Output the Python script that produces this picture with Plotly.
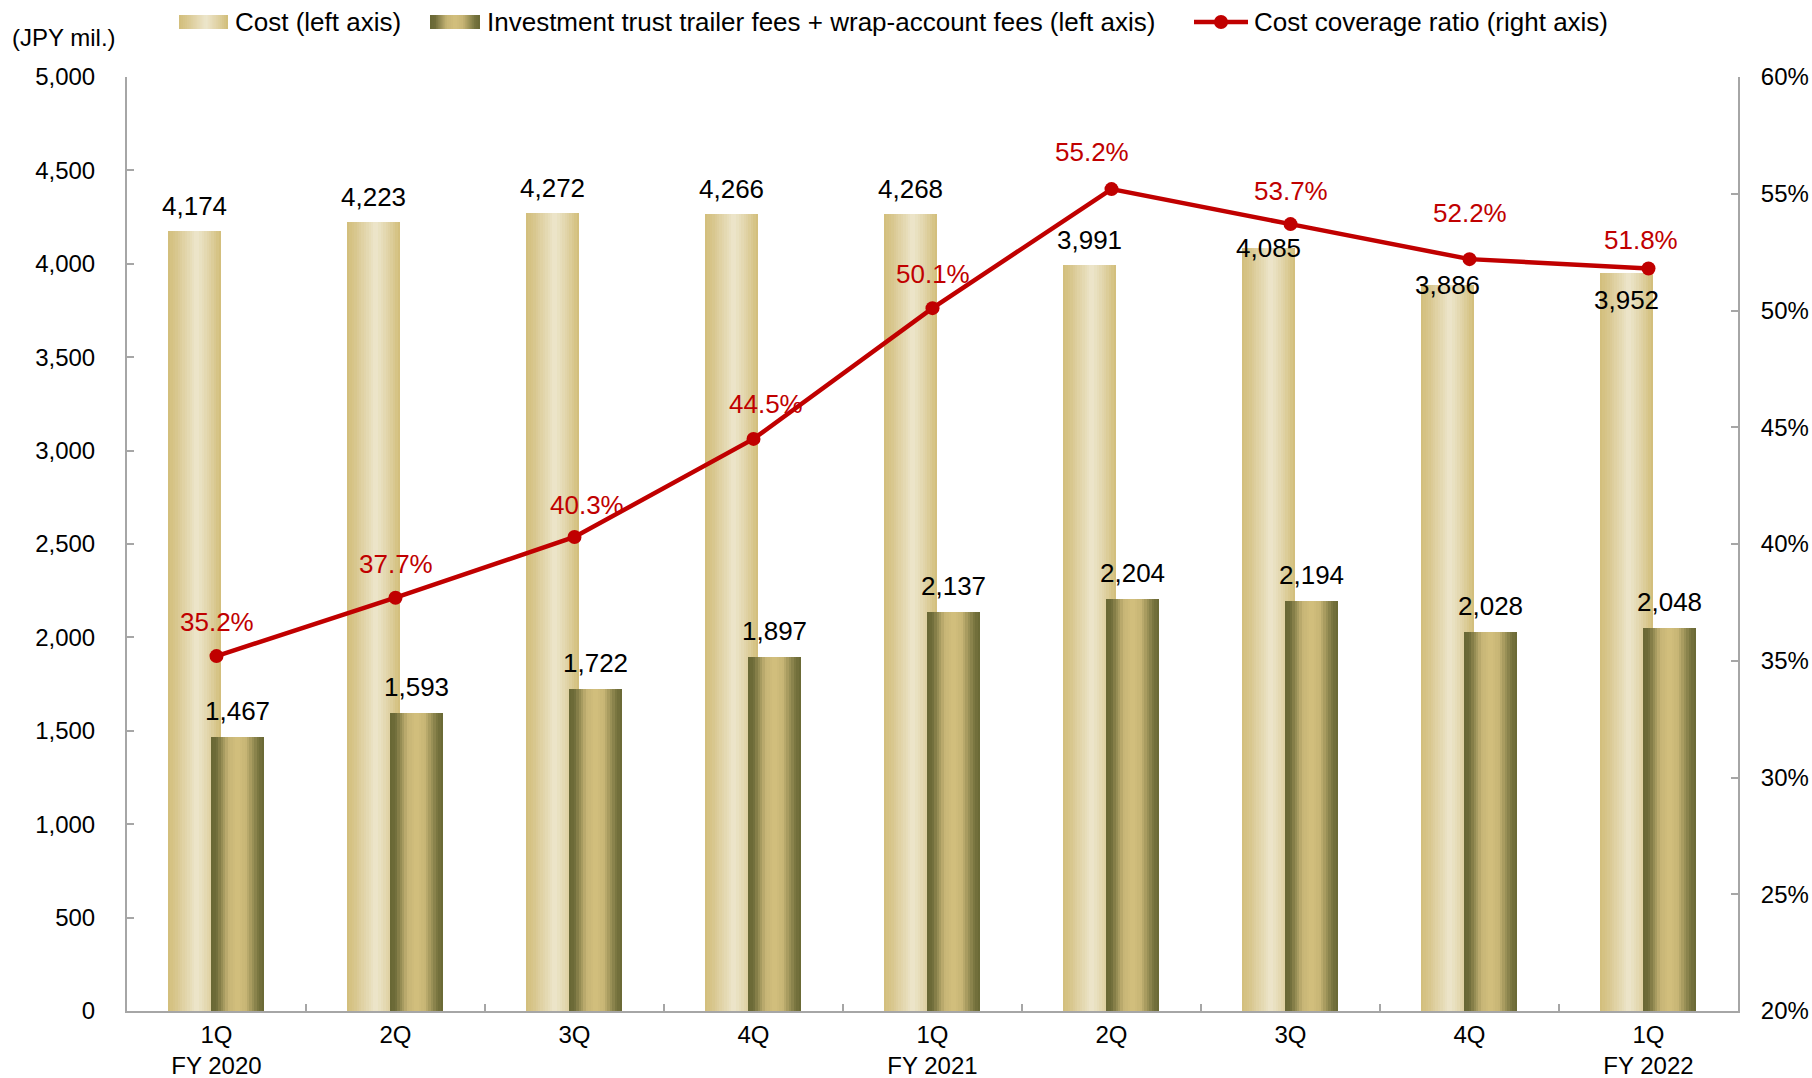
import plotly.graph_objects as go

# ---------------- data ----------------
quarters = ["1Q<br>FY 2020", "2Q", "3Q", "4Q", "1Q<br>FY 2021", "2Q", "3Q", "4Q", "1Q<br>FY 2022"]
cost = [4174, 4223, 4272, 4266, 4268, 3991, 4085, 3886, 3952]
fees = [1467, 1593, 1722, 1897, 2137, 2204, 2194, 2028, 2048]
ratio = [35.2, 37.7, 40.3, 44.5, 50.1, 55.2, 53.7, 52.2, 51.8]

cost_name = "Cost (left axis)"
fees_name = "Investment trust trailer fees + wrap-account fees (left axis)"
ratio_name = "Cost coverage ratio (right axis)"

# ---------------- styling ----------------
FONT = "Arial, 'Liberation Sans', sans-serif"
W, H = 1812, 1078
ML, MR, MT, MB = 127, 74, 77, 67
PW, PH = W - ML - MR, H - MT - MB

BAR_W = 0.296
COST_OFF = -0.271
FEES_OFF = -0.031
NSTRIPE = 22

cost_stops = [(0.0, "#D2BE7A"), (0.15, "#D8C68D"), (0.55, "#EDE6CC"), (0.8, "#DFD1A2"), (1.0, "#D1BD78")]
fees_stops = [(0.0, "#686734"), (0.1, "#6E6C39"), (0.33, "#C6B475"), (0.5, "#D3BF7D"),
              (0.66, "#C7B575"), (0.9, "#76733E"), (1.0, "#686734")]

# label offsets (pixels)
cost_lbl_dy = [25, 25, 25, 25, 25, 25, 0, 0, -27]
fees_lbl_dy = [26] * 9
ratio_lbl_dx = [0, 0, 12, 12, 0, -20, 0, 0, -8]
ratio_lbl_dy = [34, 34, 32, 35, 34, 37, 33, 46, 28]

RED = "#C00000"


def hex2rgb(h):
    h = h.lstrip("#")
    return tuple(int(h[i:i + 2], 16) for i in (0, 2, 4))


def grad(stops, t):
    for (t0, c0), (t1, c1) in zip(stops[:-1], stops[1:]):
        if t0 <= t <= t1:
            f = 0 if t1 == t0 else (t - t0) / (t1 - t0)
            a, b = hex2rgb(c0), hex2rgb(c1)
            return "rgb(%d,%d,%d)" % tuple(round(a[i] + (b[i] - a[i]) * f) for i in range(3))
    return stops[-1][1]


x = list(range(len(quarters)))
fig = go.Figure()


def add_gradient_bars(values, off, stops, name):
    sw = BAR_W / NSTRIPE
    for k in range(NSTRIPE):
        t = (k + 0.5) / NSTRIPE
        extra = sw * 0.6 if k < NSTRIPE - 1 else 0
        fig.add_trace(go.Bar(
            x=x, y=values, width=sw + extra, offset=off + k * sw,
            marker=dict(color=grad(stops, t), line=dict(width=0)),
            name=name, showlegend=False, hoverinfo="y",
        ))


add_gradient_bars(cost, COST_OFF, cost_stops, cost_name)
add_gradient_bars(fees, FEES_OFF, fees_stops, fees_name)

fig.add_trace(go.Scatter(
    x=x, y=ratio, yaxis="y2", mode="lines+markers", name=ratio_name,
    line=dict(color=RED, width=4.5), marker=dict(color=RED, size=14),
    showlegend=False,
))

ann = []
for i in x:
    ann.append(dict(x=i + COST_OFF + BAR_W / 2, y=cost[i], xref="x", yref="y",
                    text=f"{cost[i]:,}", showarrow=False, yanchor="middle",
                    yshift=cost_lbl_dy[i], font=dict(size=26, color="#000000", family=FONT)))
    ann.append(dict(x=i + FEES_OFF + BAR_W / 2, y=fees[i], xref="x", yref="y",
                    text=f"{fees[i]:,}", showarrow=False, yanchor="middle",
                    yshift=fees_lbl_dy[i], font=dict(size=26, color="#000000", family=FONT)))
    ann.append(dict(x=i, y=ratio[i], xref="x", yref="y2",
                    text=f"{ratio[i]:.1f}%", showarrow=False, yanchor="middle",
                    xshift=ratio_lbl_dx[i], yshift=ratio_lbl_dy[i],
                    font=dict(size=26, color=RED, family=FONT)))


def px(xp):
    return (xp - ML) / PW


def py(yp):
    return (H - MB - yp) / PH


shapes = []


def legend_gradient(x0, x1, y0, y1, stops):
    n = 24
    for k in range(n):
        a = x0 + (x1 - x0) * k / n
        b = x0 + (x1 - x0) * (k + 1.4) / n if k < n - 1 else x1
        shapes.append(dict(type="rect", xref="paper", yref="paper",
                           x0=px(a), x1=px(b), y0=py(y1), y1=py(y0),
                           fillcolor=grad(stops, (k + 0.5) / n), line=dict(width=0), layer="above"))


legend_gradient(179, 228, 15, 29, cost_stops)
legend_gradient(430, 480, 15, 29, fees_stops)
shapes.append(dict(type="line", xref="paper", yref="paper", x0=px(1194), x1=px(1248),
                   y0=py(22), y1=py(22), line=dict(color=RED, width=4.5)))
shapes.append(dict(type="circle", xref="paper", yref="paper", x0=px(1214), x1=px(1228),
                   y0=py(29), y1=py(15), fillcolor=RED, line=dict(width=0)))

for xt, txt in [(233, cost_name), (485, fees_name), (1252, ratio_name)]:
    ann.append(dict(x=px(xt), y=py(22), xref="paper", yref="paper", text=txt, showarrow=False,
                    xanchor="left", yanchor="middle", font=dict(size=26, color="#000000", family=FONT)))

ann.append(dict(x=px(63.5), y=py(38), xref="paper", yref="paper", text="(JPY mil.)", showarrow=False,
                xanchor="center", yanchor="middle", font=dict(size=24, color="#000000", family=FONT)))

AX = "#A6A6A6"
fig.update_layout(
    width=W, height=H, autosize=False,
    margin=dict(l=ML, r=MR, t=MT, b=MB, autoexpand=False),
    paper_bgcolor="white", plot_bgcolor="white",
    barmode="overlay", bargap=0,
    font=dict(family=FONT, size=24, color="#000000"),
    showlegend=False,
    annotations=ann, shapes=shapes,
    xaxis=dict(range=[-0.5, 8.5], tickmode="array", tickvals=x, ticktext=quarters,
               ticks="", showline=True, linecolor=AX, linewidth=2, showgrid=False, zeroline=False,
               tickfont=dict(size=24), automargin=False, ticklabelstandoff=1,
               minor=dict(tickmode="array", tickvals=[i + 0.5 for i in x[:-1]],
                          ticks="inside", ticklen=7, tickcolor=AX, tickwidth=2)),
    yaxis=dict(range=[0, 5000], dtick=500, tickformat=",", ticks="inside", ticklen=7,
               tickcolor=AX, tickwidth=2, showline=True, linecolor=AX, linewidth=2,
               showgrid=False, zeroline=False, tickfont=dict(size=24), ticklabelstandoff=25,
               automargin=False),
    yaxis2=dict(range=[20, 60], dtick=5, ticksuffix="%", overlaying="y", side="right",
                ticks="inside", ticklen=7, tickcolor=AX, tickwidth=2, showline=True,
                linecolor=AX, linewidth=2, showgrid=False, zeroline=False,
                tickfont=dict(size=24), ticklabelstandoff=16, automargin=False),
)

fig.write_html(
    "out.html",
    config={"displayModeBar": False},
    post_script=(
        "document.documentElement.style.overflow='hidden';"
        "document.body.style.margin='0';"
        "document.body.style.padding='0';"
        "document.body.style.overflow='hidden';"
    ),
)
